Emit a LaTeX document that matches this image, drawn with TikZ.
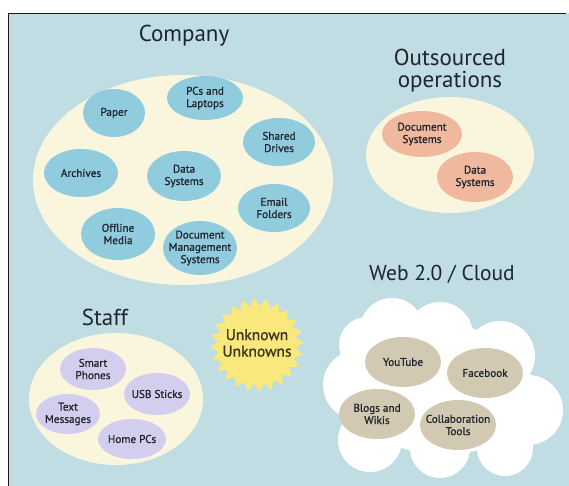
\documentclass[tikz,border=0pt]{standalone}
\usepackage{fontspec}
\setmainfont{PT Sans}
\newfontfamily\semibold{PT Sans}[FakeBold=0.9]
\definecolor{panel}{RGB}{191,221,227}
\definecolor{frame}{RGB}{25,25,25}
\definecolor{cream}{RGB}{250,246,222}
\definecolor{skyblob}{RGB}{145,204,222}
\definecolor{salmon}{RGB}{240,185,158}
\definecolor{lavender}{RGB}{211,205,238}
\definecolor{taupe}{RGB}{210,201,178}
\definecolor{starfill}{RGB}{249,232,124}
\definecolor{ink}{RGB}{32,36,44}
\definecolor{starink}{RGB}{60,50,30}
% one filled ellipse with its label: name, x, y, x radius, y radius, colour, text
\newcommand\blob[7]{%
  \fill[#6] (#2,#3) ellipse ({#4pt} and {#5pt});
  \node[lbl] (#1) at (#2,#3) {#7};}
\begin{document}
\begin{tikzpicture}[x=1pt,y=-1pt,
  title/.style={font=\fontsize{23}{22}\selectfont, text=ink, align=center, inner sep=0pt},
  lbl/.style={font=\semibold\fontsize{11.2}{12.3}\selectfont, text=ink, align=center, inner sep=0pt},
  starlbl/.style={font=\semibold\fontsize{15.5}{16.5}\selectfont, text=starink, align=center, inner sep=0pt}]
\useasboundingbox (0,0) rectangle (569,486);
% background panel and its frame
\fill[panel] (8.5,13.5) rectangle (569,486);
\draw[frame, line width=1.5pt] (8.5,486) -- (8.5,13.5) -- (566,13.5);

% ---- Company ----
\node[title, anchor=base] (company) at (184,42) {Company};
\fill[cream] (183,180) ellipse (150pt and 105pt);
\blob{paper}{114}{113}{31}{24}{skyblob}{Paper}
\blob{pcs}{205}{98}{38}{22}{skyblob}{PCs and\\Laptops}
\blob{shared}{279}{142}{36}{24}{skyblob}{Shared\\Drives}
\blob{archives}{81}{173}{37}{24}{skyblob}{Archives}
\blob{datasys}{184}{176}{37}{25}{skyblob}{Data\\Systems}
\blob{email}{274}{208}{36}{24}{skyblob}{Email\\Folders}
\blob{offline}{118}{234}{37}{26}{skyblob}{Offline\\Media}
\blob{dms}{200}{248}{37}{27}{skyblob}{Document\\Management\\Systems}

% ---- Outsourced operations ----
\node[title] (outsourced) at (450,71) {Outsourced\\operations};
\fill[cream] (450,155) ellipse (84pt and 58pt);
\blob{odoc}{422}{134}{40}{23}{salmon}{Document\\Systems}
\blob{odata}{475}{177}{38}{25}{salmon}{Data\\Systems}

% ---- Staff ----
\node[title, anchor=base] (staff) at (105,325) {Staff};
\fill[cream] (116,399) ellipse (87pt and 66pt);
\blob{phones}{93}{369}{33}{21}{lavender}{Smart\\Phones}
\blob{usb}{157}{394}{33}{21}{lavender}{USB Sticks}
\blob{texts}{68}{414}{32}{20}{lavender}{Text\\Messages}
\blob{homepc}{132}{439}{34}{20}{lavender}{Home PCs}

% ---- Unknown Unknowns ----
\fill[starfill, shift={(257,345)}] (3:47pt)
  \foreach \k in {0,...,23} { -- ({\k*15+3}:47pt) -- ({\k*15+10.5}:39pt) } -- cycle;
\node[starlbl] (unknown) at (257,343) {Unknown\\Unknowns};

% ---- Web 2.0 / Cloud ----
\node[title, font=\fontsize{21.5}{22}\selectfont, anchor=base] (web) at (442,280) {Web 2.0 / Cloud};
\fill[white]
  (392,330) circle (32pt)
  (440,335) circle (33pt)
  (500,356) circle (35pt)
  (528,410) circle (35pt)
  (505,448) circle (28pt)
  (440,448) circle (30pt)
  (370,440) circle (32pt)
  (358,385) circle (35pt)
  (367,345) circle (28pt)
  (443,390) ellipse (90pt and 65pt);
\blob{youtube}{403}{362}{38}{25}{taupe}{YouTube}
\blob{facebook}{485}{373}{38}{25}{taupe}{Facebook}
\blob{blogs}{377}{414}{38}{25}{taupe}{Blogs and\\Wikis}
\blob{collab}{458}{425}{38}{25}{taupe}{Collaboration\\Tools}
\end{tikzpicture}
\end{document}
